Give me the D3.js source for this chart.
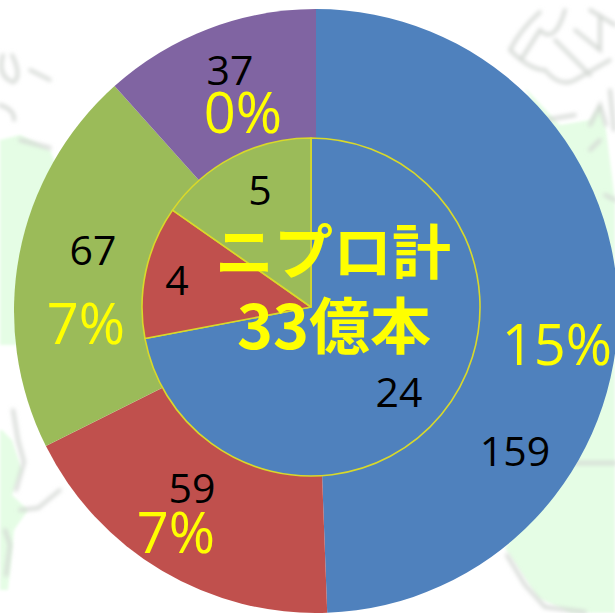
<!DOCTYPE html>
<html><head><meta charset="utf-8">
<style>html,body{margin:0;padding:0;background:#fff;overflow:hidden}svg{display:block}</style>
<script src="https://cdn.jsdelivr.net/npm/d3@7"></script></head>
<body><svg id="c" width="615" height="613"></svg>
<script>
const categories = ["A", "B", "C", "D"];
const outerValues = [159, 58.6, 66.8, 37.4];
const innerValues = [23.8, 4.2, 5.05];
const percentLabels = ["15%", "7%", "7%", "0%"];
const centerLines = ["ニプロ計", "33億本"];
const colors = ["#4f81bd", "#c0504d", "#9bbb59", "#8064a2"];

const svg = d3.select("#c");
const defs = svg.append("defs");
defs.append("filter").attr("id","blur").append("feGaussianBlur").attr("stdDeviation",2.2);
defs.append("filter").attr("id","blur2").append("feGaussianBlur").attr("stdDeviation",1.5);

// faint map behind the chart
const bg = svg.append("g");
const land = bg.append("g").attr("filter","url(#blur2)").attr("fill","#e5fde5");
["M0,140 L20,135 L50,150 L60,175 L60,340 L18,345 L0,345 Z",
 "M2,430 L12,440 L22,470 L12,495 L28,510 L14,530 L8,590 L0,590 L0,430 Z",
 "M615,280 L615,613 L572,613 L538,598 L505,548 L560,470 Z",
 "M525,88 L560,125 L590,120 L600,105 L606,130 L615,200 L615,280 L590,220 Z"].forEach(d=>land.append("path").attr("d",d));
const coast = bg.append("g").attr("filter","url(#blur)").attr("fill","none").attr("stroke","#d4d8d4").attr("stroke-width",3.5).attr("stroke-linecap","round");
["M3,55 Q-3,75 12,82 M12,55 Q22,75 14,82 M30,70 L50,80 M0,105 Q15,110 14,120 M20,140 L50,148",
 "M510,50 Q520,30 540,12 M522,58 L540,30 Q555,45 565,10 M510,50 Q530,70 545,70 Q560,88 575,80 L610,60 M555,40 L590,75 M575,30 L600,50 L600,15 M590,10 L615,25",
 "M545,120 L575,115 M590,125 L600,105 L606,125 M610,90 L614,130 M600,140 L590,150 M605,195 L615,200",
 "M13,410 L18,440 L24,462 L16,490 M20,510 L38,508 L60,490 M5,530 L10,545 L6,575",
 "M575,463 L615,463 M507,555 L525,585 L545,607 L585,612"].forEach(d=>coast.append("path").attr("d",d));

const pie = d3.pie().sort(null).value(d=>d);

// outer ring
const outerC = [316, 311];
const outerArc = d3.arc().innerRadius(0).outerRadius(302);
svg.append("g").attr("transform",`translate(${outerC})`)
  .selectAll("path").data(pie(outerValues)).join("path")
  .attr("d",outerArc).attr("fill",(d,i)=>colors[i]);

// inner pie
const innerC = [311, 307];
const innerArc = d3.arc().innerRadius(0).outerRadius(169);
svg.append("g").attr("transform",`translate(${innerC})`)
  .selectAll("path").data(pie(innerValues)).join("path")
  .attr("d",innerArc).attr("fill",(d,i)=>colors[i])
  .attr("stroke","#d9d92a").attr("stroke-width",1.6).attr("stroke-linejoin","round");

const FONT = "'Open Sans','Noto Sans',sans-serif";
const CJK = "'Noto Sans CJK JP',sans-serif";
const fmt = d3.format(".0f");
function text(x,y,s,size,fill,fam,weight){
  svg.append("text").attr("x",x).attr("y",y).attr("text-anchor","middle")
    .attr("font-family",fam||FONT).attr("font-size",size).attr("font-weight",weight||400)
    .attr("fill",fill).text(s);
}
const outerNumPos = [[515,466],[192,503],[93,265],[230,85]];
outerValues.forEach((v,i)=>text(outerNumPos[i][0],outerNumPos[i][1],fmt(v),41,"#000"));
const innerNumPos = [[399,407],[177,295],[260,205]];
innerValues.forEach((v,i)=>text(innerNumPos[i][0],innerNumPos[i][1],fmt(v),41,"#000"));
const pctPos = [[557,365],[176,553],[86,344],[243,133]];
percentLabels.forEach((s,i)=>text(pctPos[i][0],pctPos[i][1],s,56,"#ffff00"));
text(333,274,centerLines[0],59,"#ffff00",CJK,700);
text(334,349,centerLines[1],61,"#ffff00",CJK,700);
</script></body></html>
